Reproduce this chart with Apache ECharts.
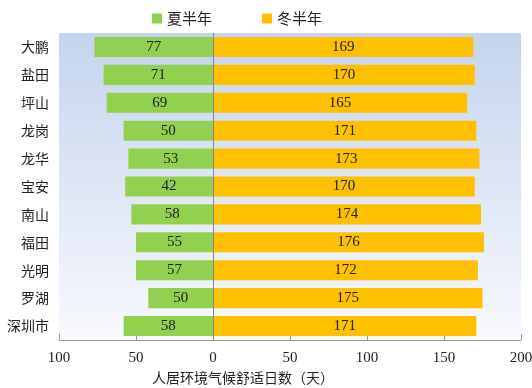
<!DOCTYPE html>
<html><head><meta charset="utf-8">
<script src="https://cdn.jsdelivr.net/npm/echarts@6/dist/echarts.min.js"></script>
<style>html,body{margin:0;padding:0;background:#fff}#c{width:532px;height:388px}</style>
</head><body><div id="c"></div>
<script>
var categories = ['大鹏','盐田','坪山','龙岗','龙华','宝安','南山','福田','光明','罗湖','深圳市'];
// bar lengths as drawn in the reference
var summer = [77,71,69,58,55,57,53,50,50,42,58];
// numbers printed on the summer bars in the reference
var summerLabels = [77,71,69,50,53,42,58,55,57,50,58];
var winter = [169,170,165,171,173,170,174,176,172,175,171];
var xTicks = [-100,-50,0,50,100,150,200];

var chart = echarts.init(document.getElementById('c'));
chart.setOption({
  animation:false,
  legend:{top:6,left:147,itemWidth:10,itemHeight:10,itemGap:50,
    textStyle:{fontFamily:'Noto Sans CJK SC',fontSize:15,color:'#222'},
    data:[{name:'夏半年',icon:'rect'},{name:'冬半年',icon:'rect'}]},
  grid:{left:59,right:11,top:33,bottom:48,show:true,borderWidth:0,containLabel:false,outerBoundsMode:'none',
    backgroundColor:new echarts.graphic.LinearGradient(0,0,0,1,[{offset:0,color:'#c4d4ee'},{offset:1,color:'#f8f9fd'}])},
  xAxis:{type:'value',min:xTicks[0],max:xTicks[xTicks.length-1],interval:50,
    axisLine:{show:true,lineStyle:{color:'#999'}},
    axisTick:{show:true,inside:true,length:6,lineStyle:{color:'#999'}},
    splitLine:{show:false},
    axisLabel:{formatter:function(v){return Math.abs(v);},fontFamily:'Liberation Serif',fontSize:15,color:'#222',margin:11},
    name:'人居环境气候舒适日数（天）',nameLocation:'middle',nameGap:31,
    nameTextStyle:{fontFamily:'Noto Sans CJK SC',fontSize:14,color:'#222',padding:[0,94,0,0]}},
  yAxis:{type:'category',data:categories,inverse:true,
    axisLine:{show:false},axisTick:{show:false},
    axisLabel:{fontFamily:'Noto Sans CJK SC',fontSize:14,color:'#222',margin:10}},
  series:[
    {name:'夏半年',type:'bar',stack:'a',barWidth:'72%',
     data:summer.map(function(v){return -v;}),
     itemStyle:{color:'#92d050'},
     label:{show:true,position:'inside',formatter:function(p){return summerLabels[p.dataIndex];},fontFamily:'Liberation Serif',fontSize:15,color:'#222'},
     markLine:{silent:true,symbol:'none',label:{show:false},lineStyle:{color:'#888',type:'solid',width:1},data:[{xAxis:0}]}},
    {name:'冬半年',type:'bar',stack:'a',barWidth:'72%',
     data:winter,
     itemStyle:{color:'#ffc000'},
     label:{show:true,position:'inside',fontFamily:'Liberation Serif',fontSize:15,color:'#222'}}
  ]
});
</script></body></html>
